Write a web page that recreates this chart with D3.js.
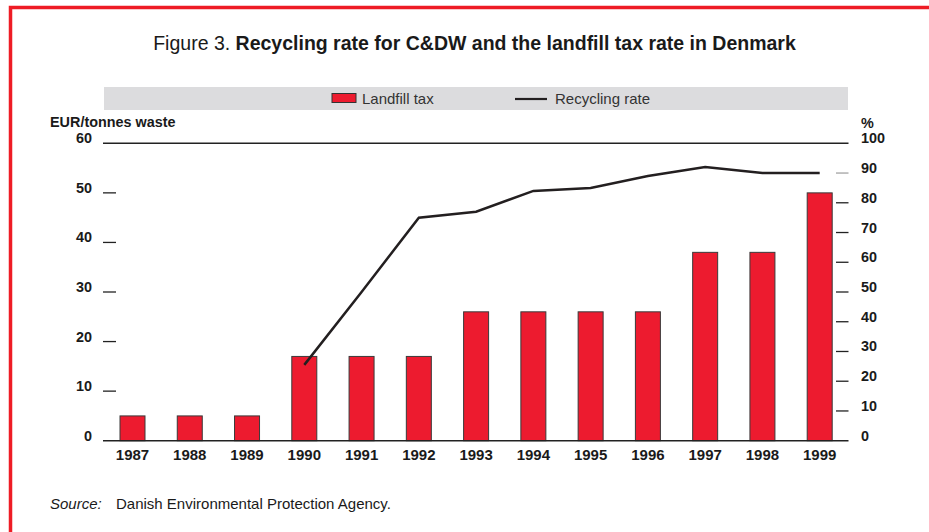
<!DOCTYPE html>
<html>
<head>
<meta charset="utf-8">
<script src="https://cdn.jsdelivr.net/npm/d3@7"></script>
<style>
  body { margin: 0; background: #fff; }
  svg { display: block; font-family: "Liberation Sans", Arial, sans-serif; }
</style>
</head>
<body>
<svg id="chart" width="929" height="532"></svg>
<script>
const years = ["1987","1988","1989","1990","1991","1992","1993","1994","1995","1996","1997","1998","1999"];
const landfillTax = [5, 5, 5, 17, 17, 17, 26, 26, 26, 26, 38, 38, 50];
const recyclingRate = [null, null, null, 25.5, 50, 75, 77, 84, 85, 89, 92, 90, 90];
const leftTicks = [0, 10, 20, 30, 40, 50, 60];
const rightTicks = [0, 10, 20, 30, 40, 50, 60, 70, 80, 90, 100];

const svg = d3.select("#chart");

// red frame
svg.append("path")
  .attr("d", "M10.5,940 L10.5,7.5 L940,7.5")
  .attr("fill", "none").attr("stroke", "#ee1c25").attr("stroke-width", 3.5);

// title
const title = svg.append("text").attr("x", 474.5).attr("y", 50)
  .attr("text-anchor", "middle").attr("font-size", 19.5).attr("fill", "#1a1a1a");
title.append("tspan").text("Figure 3.  ");
title.append("tspan").attr("font-weight", "bold").text("Recycling rate for C&DW and the landfill tax rate in Denmark");

// legend band
svg.append("rect").attr("x", 104).attr("y", 87).attr("width", 744).attr("height", 23).attr("fill", "#dcdcde");
svg.append("rect").attr("x", 332).attr("y", 93.5).attr("width", 24).attr("height", 9)
  .attr("fill", "#ed1b2f").attr("stroke", "#333").attr("stroke-width", 1);
svg.append("text").attr("x", 362).attr("y", 104).attr("font-size", 15).attr("fill", "#333").text("Landfill tax");
svg.append("line").attr("x1", 515).attr("x2", 547).attr("y1", 99).attr("y2", 99).attr("stroke", "#231f20").attr("stroke-width", 2.2);
svg.append("text").attr("x", 555).attr("y", 104).attr("font-size", 15).attr("fill", "#333").text("Recycling rate");

// scales
const x = d3.scalePoint().domain(years).range([132.5, 819.7]);
const yL = d3.scaleLinear().domain([0, 60]).range([440.7, 143.3]);
const yR = d3.scaleLinear().domain([0, 100]).range([440.7, 143.3]);
const barW = 25;

// axis titles
svg.append("text").attr("x", 50).attr("y", 127).attr("font-size", 14.4).attr("font-weight", "bold").attr("fill", "#1a1a1a").text("EUR/tonnes waste");
svg.append("text").attr("x", 861).attr("y", 128).attr("font-size", 14.4).attr("font-weight", "bold").attr("fill", "#1a1a1a").text("%");

// left ticks
const lg = svg.append("g");
lg.selectAll("line").data(leftTicks.filter(d => d !== 0 && d !== 60)).join("line")
  .attr("x1", 103).attr("x2", 116).attr("y1", d => yL(d)).attr("y2", d => yL(d))
  .attr("stroke", "#222").attr("stroke-width", 1.3);
lg.selectAll("text").data(leftTicks).join("text")
  .attr("x", 92).attr("y", d => yL(d)).attr("text-anchor", "end")
  .attr("font-size", 14.4).attr("font-weight", "bold").attr("fill", "#1a1a1a").text(d => d);

// right ticks
const rg = svg.append("g");
rg.selectAll("line").data(rightTicks.filter(d => d !== 0 && d !== 100)).join("line")
  .attr("x1", 836).attr("x2", 848.5).attr("y1", d => yR(d)).attr("y2", d => yR(d))
  .attr("stroke", d => d === 90 ? "#888" : "#222").attr("stroke-width", d => d === 90 ? 1 : 1.3);
rg.selectAll("text").data(rightTicks).join("text")
  .attr("x", 861).attr("y", d => yR(d))
  .attr("font-size", 14.4).attr("font-weight", "bold").attr("fill", "#1a1a1a").text(d => d);

// top line
svg.append("line").attr("x1", 103).attr("x2", 848.5).attr("y1", yL(60)).attr("y2", yL(60)).attr("stroke", "#222").attr("stroke-width", 1.4);

// bars
svg.append("g").selectAll("rect").data(years).join("rect")
  .attr("x", d => x(d) - barW / 2)
  .attr("y", (d, i) => yL(landfillTax[i]))
  .attr("width", barW)
  .attr("height", (d, i) => yL(0) - yL(landfillTax[i]))
  .attr("fill", "#ed1b2f").attr("stroke", "#3a3a3a").attr("stroke-width", 1);

// baseline
svg.append("line").attr("x1", 103).attr("x2", 848.5).attr("y1", yL(0)).attr("y2", yL(0)).attr("stroke", "#222").attr("stroke-width", 1.4);

// recycling line
const line = d3.line().defined(d => d[1] != null).x(d => x(d[0])).y(d => yR(d[1]));
svg.append("path").datum(years.map((y, i) => [y, recyclingRate[i]]))
  .attr("d", line).attr("fill", "none").attr("stroke", "#231f20").attr("stroke-width", 2.5);

// x labels
svg.append("g").selectAll("text").data(years).join("text")
  .attr("x", d => x(d)).attr("y", 460).attr("text-anchor", "middle")
  .attr("font-size", 15).attr("font-weight", "bold").attr("fill", "#1a1a1a").text(d => d);

// source
svg.append("text").attr("x", 50).attr("y", 509).attr("font-size", 15).attr("font-style", "italic").attr("fill", "#1a1a1a").text("Source:");
svg.append("text").attr("x", 116).attr("y", 509).attr("font-size", 15).attr("fill", "#1a1a1a").text("Danish Environmental Protection Agency.");
</script>
</body>
</html>
